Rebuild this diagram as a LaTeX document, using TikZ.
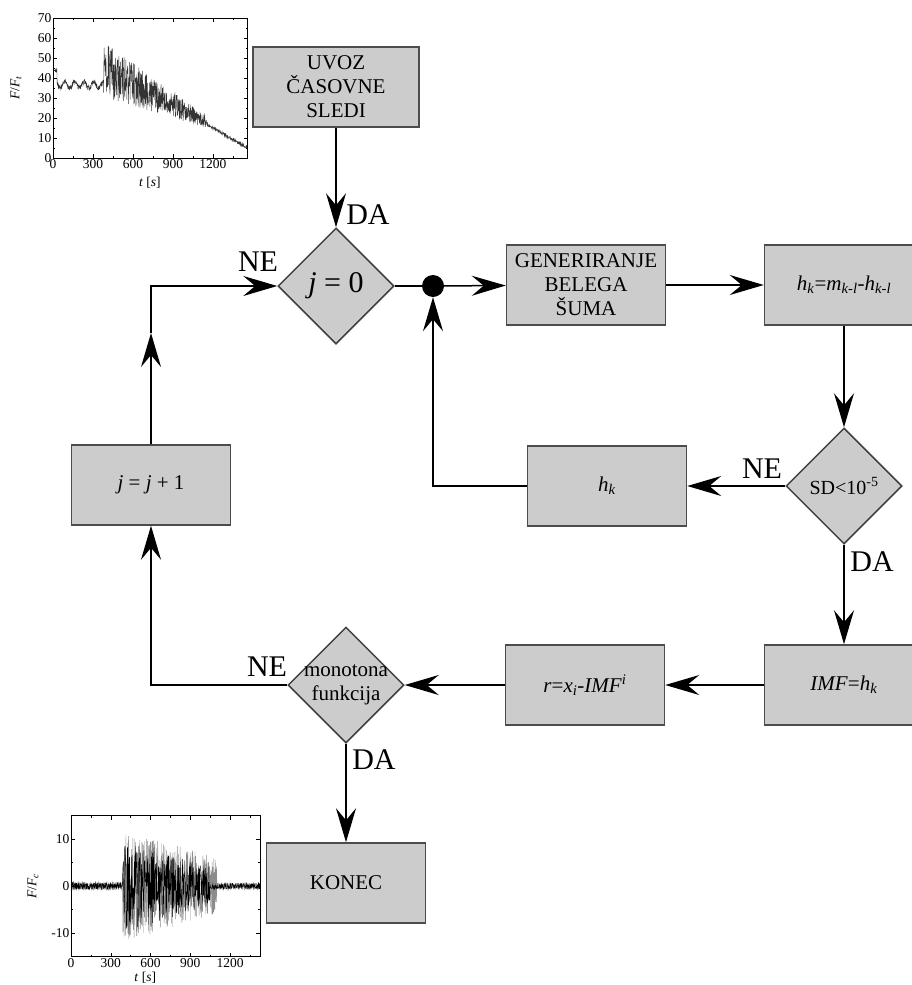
\documentclass[tikz,border=0pt]{standalone}
\usepackage{fontspec}
\setmainfont{Liberation Serif}
\usetikzlibrary{shapes.geometric}
\usetikzlibrary{arrows.meta}

\tikzset{
  block/.style = {rectangle, draw=black!70, fill=black!20, line width=1.5pt,
                  minimum width=159pt, minimum height=80pt, align=center,
                  font=\fontsize{21}{24}\selectfont},
  decision/.style = {diamond, aspect=1, draw=black!75, fill=black!20,
                  line width=1.5pt, minimum size=116pt, inner sep=0pt},
  arr/.style = {line width=1.5pt, -{Stealth[length=34pt,width=20pt,inset=12pt]}},
  link/.style = {line width=1.5pt},
  answer/.style = {font=\fontsize{30}{32}\selectfont},
  ticklab/.style = {font=\fontsize{13.5}{15}\selectfont, inner sep=1.5pt}
}

\begin{document}
\begin{tikzpicture}[x=1pt, y=-1pt]
    \useasboundingbox (0,0) rectangle (912,985);
    \pgfmathsetseed{7}

    % top plot: imported time series
    \begin{scope}[shift={(53,158)}, x=0.1333pt, y=2pt]
        \draw[black!80, line width=0.4pt] plot[domain=0:1460, samples=900]
            (\x, {(\x<30) ? (44+1.2*rand) : ((\x<380) ? (36.5+1.5*sin(\x*5)+1.2*rand) :
                  ((\x<1150) ? (44-(\x-380)/770*26+(14-(\x-380)/770*11)*rand) :
                  (17-(\x-1150)/310*12+0.7*rand)))});
        \draw[line width=0.8pt] (0,0) rectangle (1460,70);
        \foreach \v in {0,10,...,70} {
            \draw (0,\v) -- ++(4pt,0);
            \draw (1460,\v) -- ++(-4pt,0);
            \node[ticklab, anchor=east] (ty\v) at (0,\v) {\v};
        }
        \foreach \v in {5,15,...,65} {
            \draw (0,\v) -- ++(2pt,0);
            \draw (1460,\v) -- ++(-2pt,0);
        }
        \foreach \t in {0,300,...,1200} {
            \draw (\t,0) -- ++(0,4pt);
            \draw (\t,70) -- ++(0,-4pt);
            \node[ticklab, anchor=north] (tx\t) at (\t,0) {\t};
        }
        \foreach \t in {150,450,...,1350} {
            \draw (\t,0) -- ++(0,2pt);
            \draw (\t,70) -- ++(0,-2pt);
        }
        \node[ticklab] (txlab) at (727,-12.5) {\textit{t} [\textit{s}]};
        \node[ticklab, rotate=90] (tylab) at ([xshift=-37pt]0,35) {\textit{F}/\textit{F}\textsubscript{\textit{t}}};
    \end{scope}

    % bottom plot: residual
    \begin{scope}[shift={(71,886)}, x=0.1325pt, y=4.7pt]
        \draw[black!45, line width=0.4pt] plot[domain=0:1430, samples=1100]
            (\x, {(\x<390) ? (0.9*rand) :
                  ((\x<1100) ? ((12-(\x-390)/710*6)*rand) : (0.7*rand))});
        \draw[black, line width=0.4pt] plot[domain=0:1430, samples=700]
            (\x, {(\x<390) ? (0.7*rand) :
                  ((\x<1050) ? ((10-(\x-390)/660*6)*rand) : (0.6*rand))});
        \draw[line width=0.8pt] (0,-15) rectangle (1430,15);
        \foreach \v/\lab in {-10/-10,0/0,10/10} {
            \draw (0,\v) -- ++(4pt,0);
            \draw (1430,\v) -- ++(-4pt,0);
            \node[ticklab, anchor=east] (by\v) at (0,\v) {\lab};
        }
        \foreach \v in {-5,5} {
            \draw (0,\v) -- ++(2pt,0);
            \draw (1430,\v) -- ++(-2pt,0);
        }
        \foreach \t in {0,300,...,1200} {
            \draw (\t,-15) -- ++(0,4pt);
            \draw (\t,15) -- ++(0,-4pt);
            \node[ticklab, anchor=north] (bx\t) at (\t,-15) {\t};
        }
        \foreach \t in {150,450,...,1350} {
            \draw (\t,-15) -- ++(0,2pt);
            \draw (\t,15) -- ++(0,-2pt);
        }
        \node[ticklab] (bxlab) at (560,-19.5) {\textit{t} [\textit{s}]};
        \node[ticklab, rotate=90] (bylab) at ([xshift=-38pt]0,0) {\textit{F}/\textit{F}\textsubscript{\textit{c}}};
    \end{scope}

    % flow chart
    \node[block, minimum width=166pt] (load) at (336,87) {UVOZ\\ČASOVNE\\SLEDI};
    \node[decision] (j0) at (336,286) {\fontsize{30}{32}\selectfont\textit{j} = 0};
    \node[circle, fill=black, minimum size=22pt, inner sep=0pt] (dot) at (433,286) {};
    \node[block] (noise) at (586,285) {GENERIRANJE\\BELEGA\\ŠUMA};
    \node[block] (sift) at (844,285) {\textit{h}\textsubscript{\textit{k}}=\textit{m}\textsubscript{\textit{k-l}}-\textit{h}\textsubscript{\textit{k-l}}};
    \node[decision] (sd) at (844,486) {\fontsize{20}{24}\selectfont SD<10\textsuperscript{-5}};
    \node[block] (hk) at (607,486) {\textit{h}\textsubscript{\textit{k}}};
    \node[block] (imf) at (844,685) {\textit{IMF}=\textit{h}\textsubscript{\textit{k}}};
    \node[block] (res) at (585,685) {\textit{r}=\textit{x}\textsubscript{\textit{i}}-\textit{IMF}\textsuperscript{\textit{i}}};
    \node[decision, label={[font=\fontsize{21}{24}\selectfont, align=center]center:monotona\\funkcija}] (mono) at (346,685) {};
    \node[block] (konec) at (346,883) {KONEC};
    \node[block] (jinc) at (151,485) {\textit{j} = \textit{j} + 1};
    \coordinate (bend) at (151,333);

    \node[answer] (da1) at (368,215) {DA};
    \node[answer] (ne1) at (258,262) {NE};
    \node[answer] (ne2) at (762,469) {NE};
    \node[answer] (da2) at (872,562) {DA};
    \node[answer] (ne3) at (267,667) {NE};
    \node[answer] (da3) at (374,760) {DA};

    \draw[arr] (load) -- (j0);
    \draw[link] (j0) -- (dot);
    \draw[arr] (dot) -- (noise);
    \draw[arr] (noise) -- (sift);
    \draw[arr] (sift) -- (sd);
    \draw[arr] (sd) -- (hk);
    \draw[arr] (hk) -| (dot);
    \draw[arr] (sd) -- (imf);
    \draw[arr] (imf) -- (res);
    \draw[arr] (res) -- (mono);
    \draw[arr] (mono) -| (jinc);
    \draw[arr] (jinc) -- (bend);
    \draw[arr] (bend) |- (j0);
    \draw[arr] (mono) -- (konec);
\end{tikzpicture}
\end{document}
